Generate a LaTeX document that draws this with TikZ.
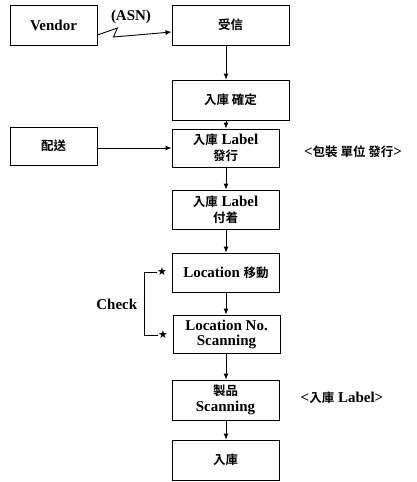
\documentclass[tikz,border=0pt]{standalone}
\usepackage{fontspec}
\setmainfont{Liberation Serif}
\newfontfamily\cjkfont{Noto Sans CJK TC}[BoldFont={Noto Sans CJK TC Bold}]
\newfontfamily\symfont{DejaVu Sans}
\newcommand{\zh}[1]{{\cjkfont\bfseries\fontsize{12.5}{15}\selectfont #1}}
\usetikzlibrary{arrows.meta}

\begin{document}
\begin{tikzpicture}[x=1pt, y=-1pt, line width=0.9pt,
	every node/.style={font=\bfseries\fontsize{15}{18}\selectfont},
	procbox/.style={draw, minimum width=107pt, minimum height=39pt, align=center, inner sep=1pt},
	starmark/.style={font=\symfont\fontsize{11}{11}\selectfont, inner sep=0pt},
	>={Latex[length=6pt,width=5pt]}]
	\useasboundingbox (0,0) rectangle (417,482);
	% process boxes
	\node[procbox, minimum width=87pt, minimum height=40pt] (vendor) at (53.5,25) {Vendor};
	\node[procbox, minimum width=117pt, minimum height=40pt] (recv) at (230.5,25) {\zh{受信}};
	\node[procbox, minimum width=117pt, minimum height=40pt] (confirm) at (230.5,100) {\zh{入庫 確定}};
	\node[procbox, minimum width=87pt, minimum height=38pt] (ship) at (53.5,146) {\zh{配送}};
	\node[procbox, minimum height=38pt] (issue) at (225.5,148) {\zh{入庫} Label\\[-2pt]\zh{發行}};
	\node[procbox] (attach) at (225.5,209.5) {\zh{入庫} Label\\[-2pt]\zh{付着}};
	\node[procbox] (move) at (226,272.5) {Location \zh{移動}};
	\node[procbox, minimum height=38pt] (scanloc) at (226.5,334) {Location No.\\[-3pt]Scanning};
	\node[procbox, minimum height=40pt] (scanprod) at (225.5,400) {\zh{製品}\\[-2pt]Scanning};
	\node[procbox, minimum height=40pt] (stock) at (225.5,460) {\zh{入庫}};
	% side notes
	\node (asn) at (131,17) {(ASN)};
	\node (pack) at (353,152) {<\zh{包裝 單位 發行}>};
	\node (tag) at (342,398) {<\zh{入庫} Label>};
	\node[anchor=east] (check) at (141,304) {Check};
	\node[starmark] (star1) at (162,272) {★};
	\node[starmark] (star2) at (163,335) {★};
	% flow
	\draw[->] ([yshift=-10pt]vendor.east) -- ++(20,-7) -- ++(-4,9) -- ([yshift=-7pt]recv.west);
	\draw[->] (ship.east |- issue) -- (issue.west);
	\draw[->] (recv.south -| move) -- (confirm.north -| move);
	\draw[->] (confirm.south -| move) -- (issue.north -| move);
	\draw[->] (issue.south -| move) -- (attach.north -| move);
	\draw[->] (attach.south -| move) -- (move.north);
	\draw[->] (move.south) -- (scanloc.north -| move);
	\draw[->] (scanloc.south -| move) -- (scanprod.north -| move);
	\draw[->] (scanprod.south -| move) -- (stock.north -| move);
	\draw (star1.west) -- ++(-12,0) |- (star2.west);
\end{tikzpicture}
\end{document}
